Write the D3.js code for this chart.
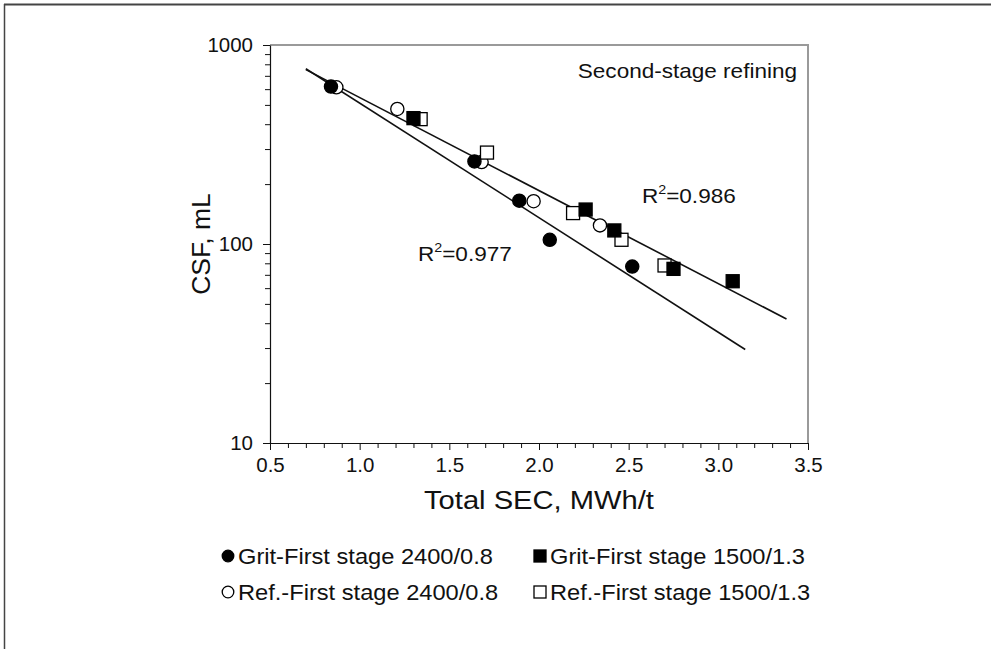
<!DOCTYPE html>
<html><head><meta charset="utf-8">
<script src="https://cdn.jsdelivr.net/npm/d3@7"></script>
<style>
body{margin:0;background:#fff}
svg{display:block}
text{font-family:"Liberation Sans",Arial,sans-serif;fill:#111}
</style>
</head><body>
<svg id="c" width="991" height="649"></svg>
<script>
// ---- data ----
const xTickValues = [0.5, 1.0, 1.5, 2.0, 2.5, 3.0, 3.5];
const yTickValues = [10, 100, 1000];
const seriesNames = [
  "Grit-First stage 2400/0.8",
  "Grit-First stage 1500/1.3",
  "Ref.-First stage 2400/0.8",
  "Ref.-First stage 1500/1.3"
];
const gritFirst2400 = [[0.84, 618], [1.64, 260], [1.89, 165], [2.06, 105], [2.52, 77]];
const refFirst2400  = [[0.87, 613], [1.21, 477], [1.68, 258], [1.97, 164], [2.34, 124]];
const gritFirst1500 = [[1.30, 429], [2.26, 149], [2.42, 117], [2.75, 75], [3.08, 65]];
const refFirst1500  = [[1.34, 424], [1.71, 288], [2.19, 143], [2.46, 105], [2.70, 78]];
const fitUpper = [[0.70, 752], [3.38, 42]];   // R2 = 0.986
const fitLower = [[0.70, 760], [3.15, 29.5]]; // R2 = 0.977
const r2Labels = ["0.986", "0.977"];
const r2Pos = [[2.574, 161], [1.325, 82.4]];
const panelLabel = "Second-stage refining";
const xTitle = "Total SEC, MWh/t";
const yTitle = "CSF, mL";

// ---- drawing ----
const svg = d3.select("#c");
const L = 270, R = 808, T = 45, B = 443;
const SX = 1.1;   // horizontal stretch of the reference lettering
const SXT = 1.05; // stretch of tick labels
const x = d3.scaleLinear().domain([0.5, 3.5]).range([L, R]);
const y = d3.scaleLog().domain([10, 1000]).range([B, T]);

function label(px, py, size, anchor, rot) {
  const g = svg.append("g").attr("transform",
    `translate(${px},${py})` + (rot ? ` rotate(${rot})` : ` scale(${SX},1)`));
  return g.append("text").attr("font-size", size).attr("text-anchor", anchor || "start");
}

// outer frame (top and left edges)
svg.append("line").attr("x1", 4).attr("x2", 991).attr("y1", 4.5).attr("y2", 4.5)
  .attr("stroke", "#444").attr("stroke-width", 2);
svg.append("line").attr("x1", 4.5).attr("x2", 4.5).attr("y1", 4).attr("y2", 649)
  .attr("stroke", "#444").attr("stroke-width", 1.5);

// plot frame top/right (grey)
svg.append("path").attr("d", `M${L},${T}H${R}V${B}`)
  .attr("fill", "none").attr("stroke", "#9a9a9a").attr("stroke-width", 2);

// minor ticks
const yMinor = [];
for (let d = 10; d < 1000; d *= 10) for (let k = 2; k <= 9; k++) yMinor.push(d * k);
const xMinor = d3.range(6, 35).map(v => v / 10).filter(v => Math.abs(v * 2 - Math.round(v * 2)) > 1e-6);

const gx = svg.append("g").attr("transform", `translate(0,${B})`);
gx.call(d3.axisBottom(x).tickValues(xMinor).tickSize(5).tickFormat(""));
gx.select(".domain").remove();
const gx2 = svg.append("g").attr("transform", `translate(0,${B})`);
gx2.call(d3.axisBottom(x).tickValues(xTickValues).tickSize(7).tickPadding(8).tickFormat(d3.format(".1f")).tickSizeOuter(0));
gx2.selectAll("text").attr("font-size", 19.5).attr("fill", "#111")
  .attr("font-family", '"Liberation Sans",Arial,sans-serif').attr("transform", `scale(${SXT},1)`);

const gy = svg.append("g").attr("transform", `translate(${L},0)`);
gy.call(d3.axisLeft(y).tickValues(yMinor).tickSize(5).tickFormat(""));
gy.select(".domain").remove();
const gy2 = svg.append("g").attr("transform", `translate(${L},0)`);
gy2.call(d3.axisLeft(y).tickValues(yTickValues).tickSize(7).tickPadding(10).tickFormat(d3.format("d")).tickSizeOuter(0));
gy2.selectAll("text").attr("font-size", 19.5).attr("fill", "#111")
  .attr("font-family", '"Liberation Sans",Arial,sans-serif')
  .attr("x", -17 / SXT).attr("transform", `scale(${SXT},1)`);
svg.selectAll(".domain").attr("stroke", "#111").attr("stroke-width", 1.2);
svg.selectAll(".tick line").attr("stroke", "#111");

// axis titles
label((L + R) / 2, 509, 26.5, "middle").text(xTitle);
label(210, (T + B) / 2, 26.5, "middle", -90).text(yTitle);

// fit lines
const line = d3.line().x(d => x(d[0])).y(d => y(d[1]));
[fitUpper, fitLower].forEach(f => svg.append("path").attr("d", line(f))
  .attr("fill", "none").attr("stroke", "#111").attr("stroke-width", 1.6));

// markers
const R_C = 6.6, S_Q = 13;
function circles(data, filled) {
  svg.append("g").selectAll("circle").data(data).join("circle")
    .attr("cx", d => x(d[0])).attr("cy", d => y(d[1])).attr("r", R_C)
    .attr("fill", filled ? "#000" : "#fff").attr("stroke", "#000").attr("stroke-width", 1.3);
}
function squares(data, filled) {
  svg.append("g").selectAll("rect").data(data).join("rect")
    .attr("x", d => x(d[0]) - S_Q / 2).attr("y", d => y(d[1]) - S_Q / 2)
    .attr("width", S_Q).attr("height", S_Q)
    .attr("fill", filled ? "#000" : "#fff").attr("stroke", "#000").attr("stroke-width", 1.3);
}
circles(refFirst2400, false);
squares(refFirst1500, false);
circles(gritFirst2400, true);
squares(gritFirst1500, true);

// annotations
label(797, 78, 20.5, "end").text(panelLabel);
r2Labels.forEach((t, i) => {
  const tx = label(x(r2Pos[i][0]), y(r2Pos[i][1]), 20.5, "start");
  tx.append("tspan").text("R");
  tx.append("tspan").attr("font-size", 13).attr("dy", -9).text("2");
  tx.append("tspan").attr("dy", 9).text("=" + t);
});

// legend
const legendPos = [[228, 556], [540, 556], [228, 592], [540, 592]];
const legendShape = ["circle", "square", "circle", "square"];
const legendFill = [true, true, false, false];
seriesNames.forEach((name, i) => {
  const [lx, ly] = legendPos[i];
  if (legendShape[i] === "circle") {
    svg.append("circle").attr("cx", lx).attr("cy", ly).attr("r", 5.8)
      .attr("fill", legendFill[i] ? "#000" : "#fff").attr("stroke", "#000").attr("stroke-width", 1.3);
  } else {
    svg.append("rect").attr("x", lx - 6).attr("y", ly - 6).attr("width", 12).attr("height", 12)
      .attr("fill", legendFill[i] ? "#000" : "#fff").attr("stroke", "#000").attr("stroke-width", 1.3);
  }
  label(lx + 10, ly + 7.5, 21.5, "start").text(name);
});
</script>
</body></html>
